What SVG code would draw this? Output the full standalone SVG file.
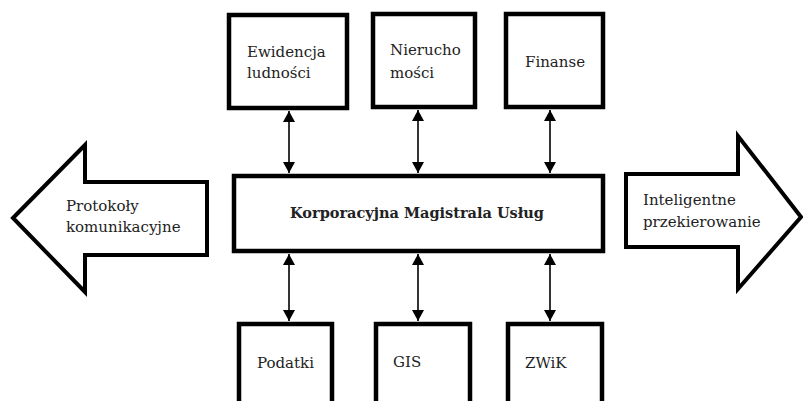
<svg xmlns="http://www.w3.org/2000/svg" width="803" height="401" viewBox="0 0 803 401">
<style>
.box{fill:#fff;stroke:#000;stroke-width:4.5}
.big{fill:#fff;stroke:#000;stroke-width:4;stroke-linejoin:miter}
.t{font-family:"DejaVu Serif",serif;font-size:15px;fill:#222}
.b{font-weight:bold;font-size:14.5px}
.c{stroke:#000;stroke-width:1.6;fill:none;marker-start:url(#ah);marker-end:url(#ah)}
</style>
<defs>
<marker id="ah" viewBox="0 0 10 10" refX="10" refY="5" markerWidth="11" markerHeight="12" markerUnits="userSpaceOnUse" orient="auto-start-reverse" preserveAspectRatio="none">
<path d="M0,0 L10,5 L0,10 Z" fill="#000"/>
</marker>
</defs>
<rect width="803" height="401" fill="#fff"/>
<g id="connectors">
<line class="c" x1="289" y1="111" x2="289" y2="173"/>
<line class="c" x1="418" y1="110" x2="418" y2="173"/>
<line class="c" x1="550" y1="110" x2="550" y2="173"/>
<line class="c" x1="289" y1="254" x2="289" y2="321"/>
<line class="c" x1="418" y1="254" x2="418" y2="321"/>
<line class="c" x1="550" y1="254" x2="550" y2="321"/>
</g>
<g id="ewidencja">
<rect class="box" x="229" y="15" width="118" height="93"/>
<text class="t" x="247" y="57">Ewidencja</text>
<text class="t" x="247" y="78">ludności</text>
</g>
<g id="nieruchomosci">
<rect class="box" x="373" y="14" width="102" height="93"/>
<text class="t" x="390" y="55">Nierucho</text>
<text class="t" x="390" y="78">mości</text>
</g>
<g id="finanse">
<rect class="box" x="506" y="14" width="97" height="93"/>
<text class="t" x="525" y="67">Finanse</text>
</g>
<g id="esb">
<rect class="box" x="234" y="176" width="369" height="75"/>
<text class="t b" x="417" y="218" text-anchor="middle">Korporacyjna Magistrala Usług</text>
</g>
<g id="protokoly">
<path class="big" d="M13,218 L85,145 L85,182 L207,182 L207,255 L85,255 L85,292 Z"/>
<text class="t" x="66" y="211">Protokoły</text>
<text class="t" x="66" y="232">komunikacyjne</text>
</g>
<g id="inteligentne">
<path class="big" d="M626,174 L738,174 L738,136 L801,217 L738,289 L738,247 L626,247 Z"/>
<text class="t" x="643" y="205">Inteligentne</text>
<text class="t" x="643" y="227">przekierowanie</text>
</g>
<g id="podatki">
<rect class="box" x="239" y="324" width="93" height="90"/>
<text class="t" x="257" y="368">Podatki</text>
</g>
<g id="gis">
<rect class="box" x="376" y="324" width="94" height="90"/>
<text class="t" x="393" y="367">GIS</text>
</g>
<g id="zwik">
<rect class="box" x="508" y="324" width="94" height="90"/>
<text class="t" x="525" y="368">ZWiK</text>
</g>
</svg>
